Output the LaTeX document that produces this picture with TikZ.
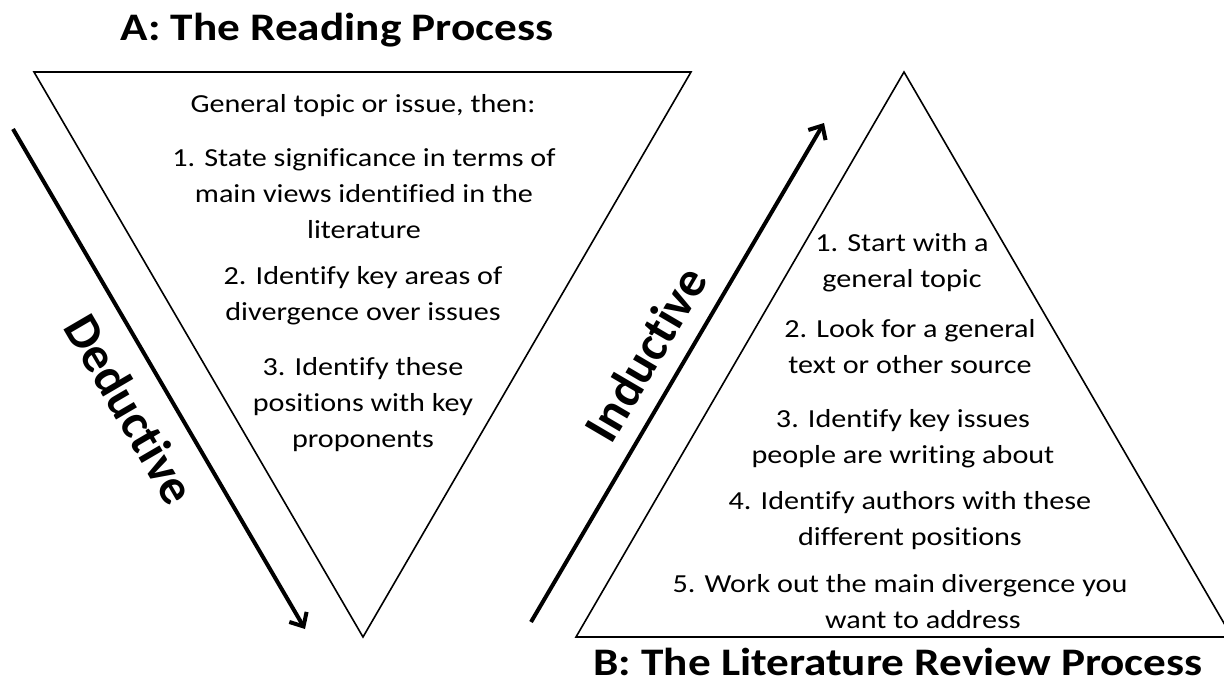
\documentclass[tikz,border=0pt]{standalone}
\usepackage{fontspec}
\setmainfont{Carlito}[FakeStretch=1.16, Ligatures=NoCommon]
\newfontfamily\flowfont{Carlito}[Ligatures=NoCommon]
\usetikzlibrary{arrows.meta}
\tikzset{
  tri/.style={line width=1.6pt},
  flow/.style={line width=4pt, -{Straight Barb[length=11pt,width=20pt]}},
  body/.style={font=\fontsize{26}{36}\selectfont, align=center, inner sep=0pt, anchor=base},
  heading/.style={font=\fontsize{39}{46}\selectfont\bfseries, inner sep=0pt, anchor=base},
  side/.style={font=\flowfont\fontsize{50}{56}\selectfont\bfseries, sloped}
}
\begin{document}
\begin{tikzpicture}[x=1pt,y=-1pt]
      \clip (0,0) rectangle (1224,688);
      \fill[white] (0,0) rectangle (1224,688);
      \draw[tri] (34,72) -- (691,72) -- (363,637) -- cycle;
      \draw[tri] (904,72) -- (1232,637) -- (576,637) -- cycle;
      \node[heading] (titleA) at (337,40) {A: The Reading Process};
      \node[heading] (titleB) at (898,675) {B: The Literature Review Process};
      % multi-line nodes sit on the baseline of their last line
      \node[body] (readTopic) at (363,112) {General topic or issue, then:};
      \node[body] (read1) at (364,238) {1. State significance in terms of\\main views identified in the\\literature};
      \node[body] (read2) at (363,320) {2. Identify key areas of\\divergence over issues};
      \node[body] (read3) at (363,447) {3. Identify these\\positions with key\\proponents};
      \node[body] (review1) at (902,287) {1. Start with a\\general topic};
      \node[body] (review2) at (910,373) {2. Look for a general\\text or other source};
      \node[body] (review3) at (903,463) {3. Identify key issues\\people are writing about};
      \node[body] (review4) at (910,545) {4. Identify authors with these\\different positions};
      \node[body] (review5) at (900,628) {5. Work out the main divergence you\\\hspace*{46pt}want to address};
      \coordinate (dedTop) at (13,129);
      \coordinate (dedTip) at (305,629);
      \coordinate (indFoot) at (531,622);
      \coordinate (indTip) at (824,123);
      \begin{scope}
        \draw[flow] (dedTop) to node[side, pos=0.52, below=17pt] (ded) {Deductive} (dedTip);
        \draw[flow] (indFoot) to node[side, pos=0.5, above=14pt] (ind) {Inductive} (indTip);
      \end{scope}
    \end{tikzpicture}
\end{document}
